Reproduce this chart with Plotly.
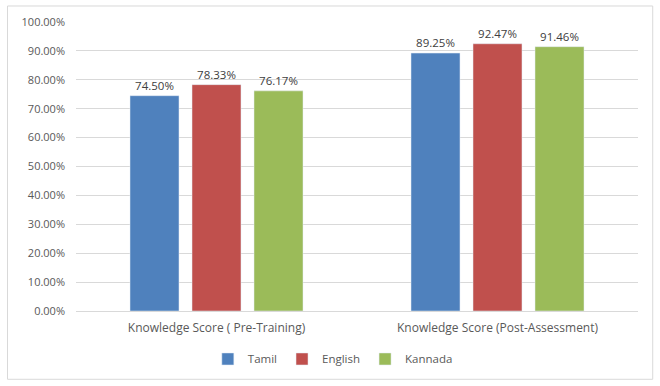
import plotly.graph_objects as go

categories = ["Knowledge Score ( Pre-Training)", "Knowledge Score (Post-Assessment)"]
tamil = [0.7450, 0.8925]
english = [0.7833, 0.9247]
kannada = [0.7617, 0.9146]

series = [("Tamil", tamil, "#4F81BD"), ("English", english, "#C0504D"), ("Kannada", kannada, "#9BBB59")]

FONT = "Open Sans, Carlito, Arial"

fig = go.Figure()
for name, vals, col in series:
    fig.add_trace(go.Bar(
        x=categories, y=vals, name=name, marker_color=col,
        text=[f"{v*100:.2f}%" for v in vals], textposition="outside",
        textfont=dict(family=FONT, size=11.5, color="#404040"), cliponaxis=False,
    ))

fig.update_layout(
    width=660, height=386,
    margin=dict(l=76, r=22, t=22, b=75, autoexpand=False),
    paper_bgcolor="white", plot_bgcolor="white",
    font=dict(family=FONT, size=11, color="#595959"),
    barmode="group", bargap=0.338, bargroupgap=0.21,
    showlegend=True,
    legend=dict(orientation="h", x=0.457, xanchor="center", y=-0.166, yanchor="middle",
                font=dict(family=FONT, size=11.5, color="#595959"), itemwidth=30,
                traceorder="normal"),
    xaxis=dict(showline=True, linecolor="#D9D9D9", ticks="", ticklabelstandoff=6,
               automargin=False, tickfont=dict(size=12, color="#595959")),
    yaxis=dict(range=[0, 1], dtick=0.1, tickformat=".2%", showgrid=True, gridcolor="#D9D9D9",
               zeroline=False, showline=False, ticks="", ticklabelstandoff=10, automargin=False,
               tickfont=dict(size=11, color="#595959")),
    shapes=[dict(type="rect", xref="paper", yref="paper", x0=-0.1219, x1=1.0262, y0=-0.2363, y1=1.0554,
                 line=dict(color="#D9D9D9", width=1), fillcolor="rgba(0,0,0,0)", layer="below")],
)

fig.write_html("out.html", config={"displayModeBar": False},
               post_script="document.body.style.margin='0';document.body.style.overflow='hidden';")
